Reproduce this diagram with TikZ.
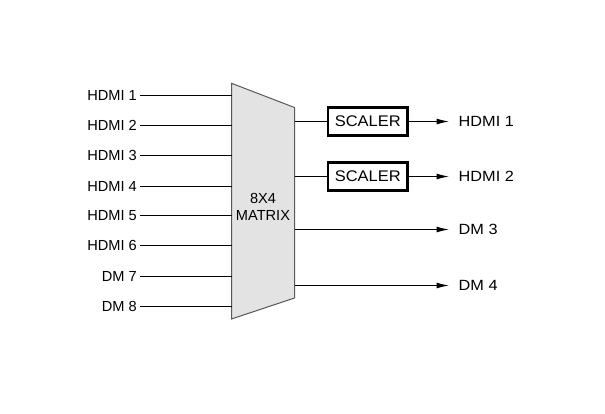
\documentclass[tikz,border=0pt]{standalone}
\usepackage{fontspec}
\setmainfont{Liberation Sans}
\newfontfamily\outfont[FakeStretch=1.1]{Liberation Sans}
\newfontfamily\scalfont[FakeStretch=1.07]{Liberation Sans}
\usetikzlibrary{arrows.meta}
\begin{document}
\begin{tikzpicture}[x=1pt,y=-1pt,
  lbl/.style={font=\fontsize{14.6}{17}\selectfont, inner ysep=0pt},
  inlbl/.style={lbl, anchor=east, inner xsep=3pt},
  outlbl/.style={font=\outfont\fontsize{14.8}{17}\selectfont, inner ysep=0pt, anchor=west, inner xsep=9.5pt},
  wire/.style={line width=1pt, black},
  arr/.style={wire, -{Latex[length=12.5pt,width=6pt]}},
  scalerbox/.style={draw, line width=2.8pt, minimum width=79.7pt, minimum height=28pt,
    inner sep=0pt, font=\scalfont\fontsize{15.4}{18}\selectfont},
  mux/.style={draw=black!65, fill=black!11, line width=1pt}
]
\useasboundingbox (0,0) rectangle (605,414);
% matrix trapezoid
\coordinate (tl) at (231.5,83.3);
\coordinate (tr) at (294.5,107.5);
\coordinate (br) at (294.5,298);
\coordinate (bl) at (231.5,319);
\draw[mux] (tl) -- (tr) -- (br) -- (bl) -- cycle;
\node[lbl, align=center] (mx) at (263,206.5) {8X4\\MATRIX};
% inputs
\foreach \i/\t/\y in {1/HDMI 1/95.5,2/HDMI 2/125.5,3/HDMI 3/155.5,4/HDMI 4/186.5,5/HDMI 5/215.5,6/HDMI 6/245.5,7/DM 7/276.5,8/DM 8/306.5}{
  \coordinate (in\i) at (231.5,\y);
  \node[inlbl] (il\i) at (140,\y) {\t};
  \draw[wire] (il\i.east) -- (in\i);
}
% outputs
\coordinate (o1) at (294.5,121.5);
\coordinate (o2) at (294.5,176.5);
\coordinate (o3) at (294.5,229.5);
\coordinate (o4) at (294.5,285.5);
\node[scalerbox] (s1) at (367.8,121.5) {SCALER};
\node[scalerbox] (s2) at (367.8,176.5) {SCALER};
\node[outlbl] (ol1) at (449,121.5) {HDMI 1};
\node[outlbl] (ol2) at (449,176.5) {HDMI 2};
\node[outlbl] (ol3) at (449,229.5) {DM 3};
\node[outlbl] (ol4) at (449,285.5) {DM 4};
\draw[wire] (o1) -- (s1.west);
\draw[wire] (o2) -- (s2.west);
\draw[arr] (s1.east) -- (ol1.west);
\draw[arr] (s2.east) -- (ol2.west);
\draw[arr] (o3) -- (ol3.west);
\draw[arr] (o4) -- (ol4.west);
\end{tikzpicture}
\end{document}
